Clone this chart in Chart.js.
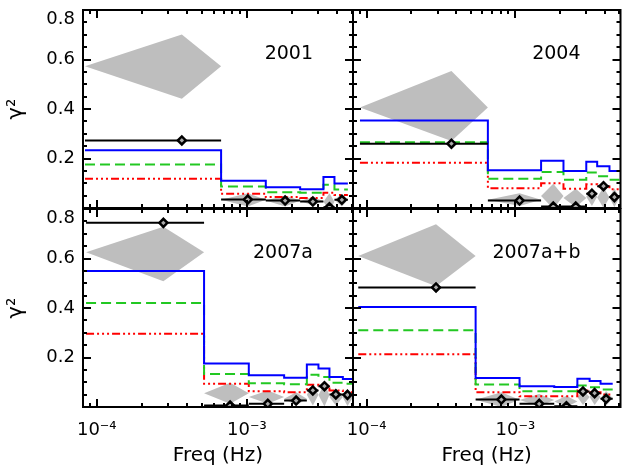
<!DOCTYPE html>
<html>
<head>
<meta charset="utf-8">
<script src="https://cdn.jsdelivr.net/npm/chart.js@4.4.1/dist/chart.umd.min.js"></script>
<style>
  html, body { margin: 0; padding: 0; background: #fff; }
  #wrap { position: relative; width: 627px; height: 470px; }
  #wrap canvas { position: absolute; left: 0; top: 0; }
</style>
</head>
<body>
<div id="wrap">
  <canvas id="c2001" width="627" height="470"></canvas>
  <canvas id="c2004" width="627" height="470"></canvas>
  <canvas id="c2007a" width="627" height="470"></canvas>
  <canvas id="c2007ab" width="627" height="470"></canvas>
</div>
<script>
// axes (Hz on log scale, coherence 0..0.8)
const xMin = 8.1e-5, xMax = 5.1e-3;
const xTicks = [9e-5, 1e-4, 2e-4, 3e-4, 4e-4, 5e-4, 6e-4, 7e-4, 8e-4, 9e-4, 1e-3, 2e-3, 3e-3, 4e-3, 5e-3];
const xMajor = [1e-4, 1e-3];
const xLabels = ['10⁻⁴', '10⁻³'];
const yTicks = [0, 0.05, 0.1, 0.15, 0.2, 0.25, 0.3, 0.35, 0.4, 0.45, 0.5, 0.55, 0.6, 0.65, 0.7, 0.75, 0.8];
const yMajor = [0.2, 0.4, 0.6, 0.8];
const yLabels = ['0.2', '0.4', '0.6', '0.8'];

// 2001
const edges2001 = [8.35e-5, 6.74e-4, 1.338e-3, 2.267e-3, 3.24e-3, 3.837e-3, 4.714e-3];
const freq2001 = [3.69e-4, 1.015e-3, 1.80e-3, 2.754e-3, 3.554e-3, 4.30e-3];
const blue2001 = [0.233, 0.110, 0.084, 0.076, 0.125, 0.099];
const green2001 = [0.176, 0.087, 0.064, 0.062, 0.094, 0.075];
const red2001 = [0.118, 0.058, 0.044, 0.040, 0.062, 0.053];
const coh2001 = [0.273, 0.034, 0.030, 0.026, 0.003, 0.033];
const grayMid2001 = [0.573, 0.033, 0.030, 0.028, 0.025, 0.033];
const grayHi2001 = [0.701, 0.060, 0.051, 0.044, 0.060, 0.057];
const grayLo2001 = [0.441, 0.006, 0.006, 0.010, -0.010, 0.006];

// 2004
const edges2004 = [9.02e-5, 6.54e-4, 1.491e-3, 2.109e-3, 3.002e-3, 3.554e-3, 4.30e-3, 5.01e-3];
const freq2004 = [3.72e-4, 1.068e-3, 1.80e-3, 2.55e-3, 3.276e-3, 3.92e-3, 4.64e-3];
const blue2004 = [0.354, 0.153, 0.191, 0.149, 0.187, 0.169, 0.149];
const green2004 = [0.266, 0.118, 0.145, 0.114, 0.143, 0.128, 0.114];
const red2004 = [0.183, 0.080, 0.100, 0.078, 0.096, 0.087, 0.076];
const coh2004 = [0.260, 0.030, 0.006, 0.006, 0.058, 0.088, 0.044];
const grayMid2004 = [0.406, 0.033, 0.048, 0.040, 0.045, 0.042, 0.042];
const grayHi2004 = [0.554, 0.060, 0.098, 0.078, 0.084, 0.084, 0.080];
const grayLo2004 = [0.271, 0.008, -0.003, 0.003, 0.008, 0.000, 0.003];

// 2007a
const edges2007a = [8.49e-5, 5.19e-4, 1.031e-3, 1.773e-3, 2.512e-3, 3.002e-3, 3.554e-3, 4.365e-3, 5.09e-3];
const freq2007a = [2.78e-4, 7.74e-4, 1.38e-3, 2.131e-3, 2.754e-3, 3.292e-3, 3.92e-3, 4.685e-3];
const blue2007a = [0.549, 0.176, 0.128, 0.118, 0.172, 0.156, 0.121, 0.113];
const green2007a = [0.420, 0.133, 0.096, 0.092, 0.130, 0.121, 0.098, 0.094];
const red2007a = [0.296, 0.094, 0.064, 0.060, 0.090, 0.087, 0.067, 0.060];
const coh2007a = [0.744, 0.006, 0.013, 0.026, 0.067, 0.084, 0.051, 0.049];
const grayMid2007a = [0.625, 0.056, 0.040, 0.033, 0.050, 0.048, 0.040, 0.038];
const grayHi2007a = [0.728, 0.098, 0.067, 0.060, 0.094, 0.094, 0.074, 0.072];
const grayLo2007a = [0.508, 0.013, 0.013, 0.006, 0.006, 0.002, 0.006, 0.004];

// 2007a+b
const edges2007ab = [8.79e-5, 5.41e-4, 1.068e-3, 1.828e-3, 2.615e-3, 3.162e-3, 3.744e-3, 4.52e-3];
const freq2007ab = [2.93e-4, 8.06e-4, 1.448e-3, 2.208e-3, 2.853e-3, 3.415e-3, 4.08e-3];
const blue2007ab = [0.404, 0.117, 0.084, 0.081, 0.114, 0.105, 0.094];
const green2007ab = [0.310, 0.091, 0.064, 0.064, 0.087, 0.080, 0.071];
const red2007ab = [0.213, 0.060, 0.043, 0.043, 0.067, 0.060, 0.051];
const coh2007ab = [0.483, 0.030, 0.013, 0.003, 0.063, 0.056, 0.033];
const grayMid2007ab = [0.610, 0.029, 0.028, 0.022, 0.040, 0.040, 0.035];
const grayHi2007ab = [0.738, 0.060, 0.053, 0.045, 0.070, 0.072, 0.065];
const grayLo2007ab = [0.488, 0.000, 0.003, 0.000, 0.008, 0.008, 0.005];

const yAxisW = 83, xAxisH = 63;

Chart.defaults.font.family = '"DejaVu Sans", sans-serif';
Chart.defaults.color = '#000';

// step line: value i held from edge i to edge i+1
function steps(edges, vals) {
  return edges.map((e, i) => ({x: e, y: vals[Math.min(i, vals.length - 1)]}));
}
// horizontal bin-width bars, broken by null points
function bars(edges, vals) {
  const out = [];
  vals.forEach((v, i) => {
    out.push({x: edges[i], y: v}, {x: edges[i + 1], y: v}, {x: edges[i + 1], y: null});
  });
  return out;
}
// closed diamonds: bin edges left/right, error range up/down at the point
function diamonds(edges, freq, mid, hi, lo) {
  const out = [];
  mid.forEach((m, i) => {
    out.push({x: edges[i], y: m}, {x: freq[i], y: hi[i]}, {x: edges[i + 1], y: m},
             {x: freq[i], y: lo[i]}, {x: edges[i], y: m}, {x: edges[i], y: null});
  });
  return out;
}

// frame with inward ticks on all sides + year label
const framePlugin = {
  id: 'frame',
  afterDraw(chart, args, opts) {
    const {ctx, chartArea: a, scales: {x, y}} = chart;
    ctx.save();
    ctx.strokeStyle = '#000';
    ctx.lineWidth = 2;
    ctx.beginPath();
    xTicks.forEach(v => {
      const px = Math.round(x.getPixelForValue(v));
      const len = xMajor.includes(v) ? 8 : 4;
      ctx.moveTo(px, a.bottom); ctx.lineTo(px, a.bottom - len);
      ctx.moveTo(px, a.top); ctx.lineTo(px, a.top + len);
    });
    yTicks.forEach(v => {
      const py = Math.round(y.getPixelForValue(v));
      const len = yMajor.includes(v) ? 8 : 4;
      ctx.moveTo(a.left, py); ctx.lineTo(a.left + len, py);
      ctx.moveTo(a.right, py); ctx.lineTo(a.right - len, py);
    });
    ctx.stroke();
    ctx.strokeRect(a.left, a.top, a.right - a.left, a.bottom - a.top);
    ctx.fillStyle = '#000';
    ctx.font = '19px "DejaVu Sans"';
    ctx.textAlign = 'right';
    ctx.textBaseline = 'alphabetic';
    ctx.fillText(opts.label, a.right - 40, a.top + 49);
    ctx.restore();
  }
};
Chart.register(framePlugin);

const panels = [
  {id: 'c2001', label: '2001', area: [83, 10, 353, 208], showX: false, showY: true,
   edges: edges2001, freq: freq2001, blue: blue2001, green: green2001, red: red2001,
   coh: coh2001, mid: grayMid2001, hi: grayHi2001, lo: grayLo2001},
  {id: 'c2004', label: '2004', area: [353, 10, 623, 208], showX: false, showY: false,
   edges: edges2004, freq: freq2004, blue: blue2004, green: green2004, red: red2004,
   coh: coh2004, mid: grayMid2004, hi: grayHi2004, lo: grayLo2004},
  {id: 'c2007a', label: '2007a', area: [83, 209, 353, 407], showX: true, showY: true,
   edges: edges2007a, freq: freq2007a, blue: blue2007a, green: green2007a, red: red2007a,
   coh: coh2007a, mid: grayMid2007a, hi: grayHi2007a, lo: grayLo2007a},
  {id: 'c2007ab', label: '2007a+b', area: [353, 209, 623, 407], showX: true, showY: false,
   edges: edges2007ab, freq: freq2007ab, blue: blue2007ab, green: green2007ab, red: red2007ab,
   coh: coh2007ab, mid: grayMid2007ab, hi: grayHi2007ab, lo: grayLo2007ab}
];

function makePanel(p) {
  const [l, t, r, b] = p.area;
  new Chart(document.getElementById(p.id), {
    type: 'line',
    data: {
      datasets: [
        {data: p.freq.map((f, i) => ({x: f, y: p.coh[i]})), showLine: false,
         pointStyle: 'rectRot', pointRadius: 4, pointBorderWidth: 2.5,
         pointBorderColor: '#000', pointBackgroundColor: '#aaa', order: 0},
        {data: bars(p.edges, p.coh), borderColor: '#000', borderWidth: 2, pointRadius: 0, order: 1},
        {data: steps(p.edges, p.blue), borderColor: '#0000ff', borderWidth: 2,
         stepped: 'before', pointRadius: 0, order: 2},
        {data: steps(p.edges, p.green), borderColor: '#22c822', borderWidth: 2, borderDash: [10, 5],
         stepped: 'before', pointRadius: 0, order: 3},
        {data: steps(p.edges, p.red), borderColor: '#ff0000', borderWidth: 2,
         borderDash: [8, 3, 2, 3, 2, 3, 2, 3], stepped: 'before', pointRadius: 0, order: 4},
        {data: diamonds(p.edges, p.freq, p.mid, p.hi, p.lo), borderColor: '#bebebe', borderWidth: 0,
         backgroundColor: '#bebebe', fill: 'shape', pointRadius: 0, order: 5}
      ]
    },
    options: {
      responsive: false,
      animation: false,
      devicePixelRatio: 1,
      events: [],
      layout: {
        padding: {
          left: p.showY ? l - yAxisW : l,
          top: t,
          right: 627 - r,
          bottom: p.showX ? 470 - b - xAxisH : 470 - b
        }
      },
      plugins: {
        legend: {display: false},
        tooltip: {enabled: false},
        frame: {label: p.label}
      },
      scales: {
        x: {
          type: 'logarithmic',
          min: xMin,
          max: xMax,
          display: p.showX,
          afterBuildTicks: s => { s.ticks = xTicks.map(v => ({value: v})); },
          afterFit: s => {
            s.height = p.showX ? xAxisH : 0;
            s.paddingLeft = 0; s.paddingRight = 0;
          },
          grid: {display: false, drawTicks: false},
          border: {display: false},
          ticks: {
            autoSkip: false, maxRotation: 0, padding: 13, font: {size: 18},
            callback: v => { const i = xMajor.indexOf(v); return i >= 0 ? xLabels[i] : ''; }
          },
          title: {display: p.showX, text: 'Freq (Hz)', font: {size: 20}, padding: {top: 0, bottom: 2}}
        },
        y: {
          min: 0,
          max: 0.8,
          display: p.showY,
          afterBuildTicks: s => { s.ticks = yTicks.map(v => ({value: v})); },
          afterFit: s => {
            s.width = p.showY ? yAxisW : 0;
            s.paddingTop = 0; s.paddingBottom = 0;
          },
          grid: {display: false, drawTicks: false},
          border: {display: false},
          ticks: {
            autoSkip: false, padding: 8, font: {size: 18, lineHeight: 1},
            callback: v => {
              const i = yMajor.indexOf(v);
              if (i < 0) return '';
              // top label sits just below the frame corner
              return v === 0.8 ? ['', yLabels[i]] : yLabels[i];
            }
          },
          title: {display: p.showY, text: 'γ²', font: {size: 21}, padding: {top: 4, bottom: 0}}
        }
      }
    }
  });
}

panels.forEach(makePanel);
</script>
</body>
</html>
